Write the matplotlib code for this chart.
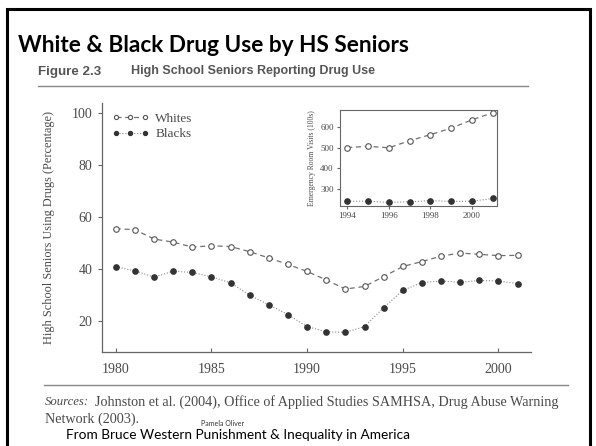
import matplotlib
matplotlib.use("Agg")
import matplotlib.pyplot as plt
from matplotlib.patches import Rectangle
from matplotlib.lines import Line2D

# ---- data ----
years = list(range(1980, 2002))
whites = [55.5, 55.1, 51.5, 50.3, 48.4, 48.9, 48.6, 46.6, 44.2, 41.7, 39.0,
          35.7, 32.2, 33.2, 37.0, 40.9, 42.8, 44.9, 46.1, 45.6, 45.1, 45.2]
blacks = [40.8, 39.2, 36.8, 39.1, 38.6, 36.9, 34.6, 29.8, 26.1, 22.3, 17.7,
          15.7, 15.5, 17.7, 25.0, 31.7, 34.7, 35.3, 34.8, 35.5, 35.3, 34.3]
main_xticks = [1980, 1985, 1990, 1995, 2000]
main_yticks = [20, 40, 60, 80, 100]

inset_years = list(range(1994, 2002))
inset_whites = [500, 506, 499, 533, 562, 593, 633, 667]
inset_blacks = [243, 243, 237, 240, 246, 242, 243, 256]
inset_xticks = [1994, 1996, 1998, 2000]
inset_yticks = [300, 400, 500, 600]

W, H = 596, 446
fig = plt.figure(figsize=(W / 100, H / 100), dpi=100)
fig.patch.set_facecolor("white")

def fx(px):
    return px / W

def fy(py):
    return 1 - py / H

serif = ["Liberation Serif", "DejaVu Serif"]
gray = "#4a4a4a"

# slide border
fig.add_artist(Rectangle((fx(7), fy(460)), fx(590) - fx(7), fy(9) - fy(460),
                         transform=fig.transFigure, fill=False,
                         edgecolor="black", linewidth=2.2, clip_on=False))

# titles
fig.text(fx(18), fy(45), "White & Black Drug Use by HS Seniors",
         fontfamily="Lato", fontweight="bold", fontsize=16.3,
         color="black", va="center", ha="left")
fig.text(fx(38), fy(72), "Figure 2.3", fontfamily="Liberation Sans",
         fontweight="bold", fontsize=9.6, color="#555555", va="center")
fig.text(fx(131), fy(71), "High School Seniors Reporting Drug Use",
         fontfamily="Liberation Sans", fontweight="bold", fontsize=9.0,
         color="#555555", va="center")
fig.add_artist(Line2D([fx(38), fx(528)], [fy(86), fy(86)],
                      transform=fig.transFigure, color="#888888", lw=1.0))
fig.add_artist(Line2D([fx(44), fx(568)], [fy(385), fy(385)],
                      transform=fig.transFigure, color="#888888", lw=1.0))

# sources
fig.text(fx(45), fy(402), "Sources:", fontfamily=serif, fontstyle="italic",
         fontsize=9.2, color=gray, va="center")
fig.text(fx(95), fy(402),
         "Johnston et al. (2004), Office of Applied Studies SAMHSA, Drug Abuse Warning",
         fontfamily=serif, fontsize=10.2, color=gray, va="center")
fig.text(fx(45), fy(419), "Network (2003).", fontfamily=serif, fontsize=10.2,
         color=gray, va="center")
fig.text(fx(66), fy(435), "From Bruce Western Punishment & Inequality in America",
         fontfamily="Lato", fontsize=9.8, color="black", va="center")
fig.text(fx(201), fy(423), "Pamela Oliver", fontfamily="Lato", fontsize=5,
         color="#333333", va="center")

# ---- main axes ----
ax = fig.add_axes([fx(102), fy(352), fx(531) - fx(102), fy(103) - fy(352)])
ax.plot(years, whites, linestyle=(0, (4, 3)), color="#707070", lw=0.9,
        marker="o", markersize=4.0, markerfacecolor="white",
        markeredgecolor="#555555", markeredgewidth=0.8, label="Whites")
ax.plot(years, blacks, linestyle=":", color="#8a8a8a", lw=0.8,
        marker="o", markersize=3.8, markerfacecolor="#333333",
        markeredgecolor="#333333", label="Blacks")
ax.set_xlim(1979.28, 2001.7)
ax.set_ylim(7.9, 104)
ax.set_xticks(main_xticks)
ax.set_yticks(main_yticks)
for s in ["top", "right"]:
    ax.spines[s].set_visible(False)
for s in ["left", "bottom"]:
    ax.spines[s].set_color("#666666")
    ax.spines[s].set_linewidth(0.9)
ax.tick_params(axis="x", direction="in", length=3, color="#666666",
               labelsize=10, labelcolor=gray, pad=8)
ax.tick_params(axis="y", direction="out", length=3, color="#666666",
               labelsize=10, labelcolor=gray, pad=4)
for lab in ax.get_xticklabels() + ax.get_yticklabels():
    lab.set_fontfamily(serif)
ax.set_ylabel("High School Seniors Using Drugs (Percentage)",
              fontfamily=serif, fontsize=8.8, color=gray, labelpad=12)
ax.patch.set_alpha(0)
leg = ax.legend(loc="upper left", bbox_to_anchor=(-0.005, 1.01), frameon=False,
                numpoints=3, handlelength=2.8, handletextpad=0.5,
                labelspacing=0.25, prop={"family": serif, "size": 9.5},
                markerscale=0.75)
for t in leg.get_texts():
    t.set_color(gray)

# ---- inset ----
ia = fig.add_axes([fx(340), fy(206), fx(497) - fx(340), fy(110) - fy(206)])
ia.plot(inset_years, inset_whites, linestyle=(0, (4, 3)), color="#707070",
        lw=0.9, marker="o", markersize=4.0, markerfacecolor="white",
        markeredgecolor="#555555", markeredgewidth=0.8)
ia.plot(inset_years, inset_blacks, linestyle=":", color="#8a8a8a", lw=0.8,
        marker="o", markersize=3.8, markerfacecolor="#333333",
        markeredgecolor="#333333")
ia.set_xlim(1993.65, 2001.2)
ia.set_ylim(220, 680)
ia.set_xticks(inset_xticks)
ia.set_xticks(range(1994, 2002), minor=True)
ia.set_yticks(inset_yticks)
for s in ia.spines.values():
    s.set_color("#666666")
    s.set_linewidth(0.8)
ia.tick_params(which="both", direction="out", length=2.5, color="#666666",
               labelsize=6.5, labelcolor=gray, pad=2)
ia.tick_params(which="minor", length=0)
for lab in ia.get_xticklabels() + ia.get_yticklabels():
    lab.set_fontfamily(serif)
ia.set_ylabel("Emergency Room Visits (100s)", fontfamily=serif, fontsize=5.5,
              color=gray, labelpad=3)

fig.savefig("out.png", dpi=100)
